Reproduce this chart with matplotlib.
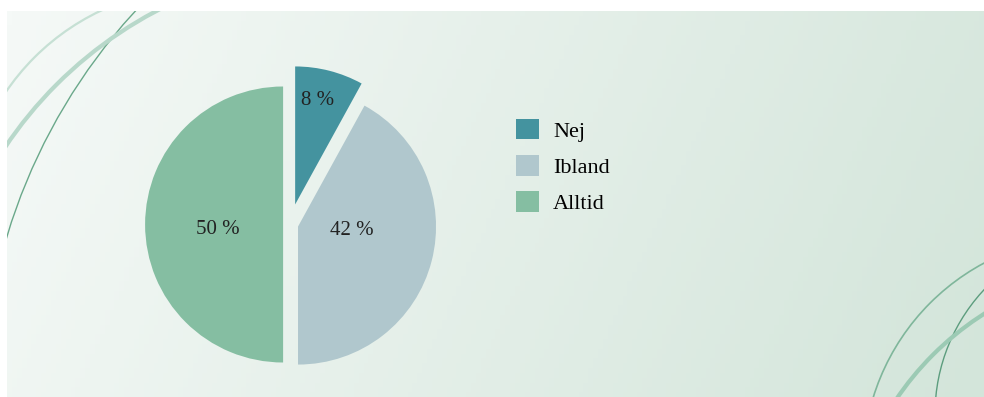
import numpy as np
import matplotlib.pyplot as plt
from matplotlib.patches import Patch, Arc
from matplotlib.colors import LinearSegmentedColormap

labels = ["Nej", "Ibland", "Alltid"]
values = [8, 42, 50]
colors = ["#44939f", "#b0c7cd", "#85bea2"]
explode = [0.15, 0.06, 0.05]

W, H = 984, 397
fig = plt.figure(figsize=(W / 100, H / 100), dpi=100)
fig.patch.set_facecolor("white")

# background panel with gradient, pixel coordinates
bg = fig.add_axes([0, 0, 1, 1])
bg.set_xlim(0, W)
bg.set_ylim(H, 0)
bg.axis("off")
panel = (7, W, H, 11)
gx, gy = np.meshgrid(np.linspace(0, 1, 200), np.linspace(0, 1, 80))
grad = 0.85 * gx + 0.15 * gy
cmap = LinearSegmentedColormap.from_list("bg", ["#f5f9f7", "#d3e5da"])
bg.imshow(grad, cmap=cmap, extent=panel, aspect="auto", origin="upper", zorder=0)

# decorative arcs in the corners
clip = plt.Rectangle((7, 11), W - 7, H - 11, transform=bg.transData, visible=False)
bg.add_patch(clip)
arcs = [
    ((565, 405), 583, "#6aa88a", 1.0),
    ((350, 378), 415, "#b8d8ca", 3.0),
    ((202, 225), 237, "#c6e0d4", 1.6),
    ((1092, 465), 229, "#7fb69b", 1.2),
    ((1117, 414), 182, "#5c9d7e", 1.0),
    ((1145, 567), 300, "#9ccab4", 3.0),
]
for (ax0, ay0), r, c, lw in arcs:
    arc = Arc((ax0, ay0), 2 * r, 2 * r, theta1=180, theta2=270,
              edgecolor=c, lw=lw, zorder=1)
    bg.add_patch(arc)
    arc.set_clip_path(clip)

# pie
R = 138
cx, cy = 290, 224.5
half = 1.25 * R
ax = fig.add_axes([(cx - half) / W, (H - cy - half) / H, 2 * half / W, 2 * half / H])
ax.set_xlim(-1.25, 1.25)
ax.set_ylim(-1.25, 1.25)
ax.set_aspect("equal")
ax.axis("off")

wedges, texts, autotexts = ax.pie(
    values, colors=colors, explode=explode, startangle=90, counterclock=False,
    autopct=lambda p: f"{p:.0f} %", pctdistance=0.5,
    textprops={"family": "Liberation Serif", "fontsize": 15, "color": "#222222"},
)
label_offsets = [(0.16, 0.75), (0.39, -0.03), (-0.47, -0.035)]
for w, t, (dx, dy) in zip(wedges, autotexts, label_offsets):
    wx, wy = w.center
    t.set_position((wx + dx, wy + dy))

handles = [Patch(facecolor=c, edgecolor="none") for c in colors]
fig.legend(handles, labels, loc="upper left", bbox_to_anchor=(516 / W, 1 - 119 / H),
           frameon=False, borderpad=0, borderaxespad=0,
           handlelength=1.04, handleheight=1.04, handletextpad=0.63,
           labelspacing=0.6, prop={"family": "Liberation Serif", "size": 16})

fig.savefig("out.png", dpi=100)
